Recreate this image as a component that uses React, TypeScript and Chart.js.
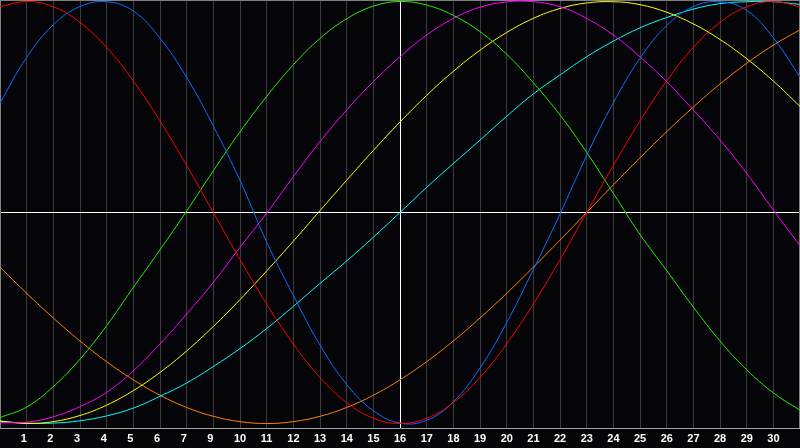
import React, { useEffect, useRef } from "react";
import { Chart, registerables } from "chart.js";

Chart.register(...registerables);

// Tick labels (positions 0..30; note "8" is absent in the original)
const xLabels = [
  "", "1", "2", "3", "4", "5", "6", "7", "9", "10", "11", "12", "13", "14", "15", "16",
  "17", "18", "19", "20", "21", "22", "23", "24", "25", "26", "27", "28", "29", "30", "",
];

const redValues = [0.975, 1, 0.975, 0.901, 0.782, 0.623, 0.434, 0.223, 0, -0.223, -0.434, -0.623, -0.782, -0.901, -0.975, -1, -0.975, -0.901, -0.782, -0.623, -0.434, -0.223, 0, 0.223, 0.434, 0.623, 0.782, 0.901, 0.975, 1, 0.975];
const blueValues = [0.52, 0.735, 0.89, 0.976, 0.999, 0.955, 0.826, 0.64, 0.41, 0.152, -0.14, -0.393, -0.628, -0.815, -0.939, -0.998, -0.985, -0.897, -0.737, -0.522, -0.27, -0.007, 0.27, 0.52, 0.731, 0.886, 0.976, 0.999, 0.958, 0.828, 0.642];
const greenValues = [-0.972, -0.922, -0.825, -0.695, -0.536, -0.355, -0.177, 0.007, 0.198, 0.382, 0.55, 0.7, 0.825, 0.918, 0.978, 1.0, 0.983, 0.934, 0.857, 0.75, 0.615, 0.462, 0.285, 0.091, -0.104, -0.275, -0.448, -0.609, -0.745, -0.855, -0.937];
const magentaValues = [-0.995, -0.994, -0.968, -0.92, -0.852, -0.75, -0.623, -0.481, -0.331, -0.165, -0.003, 0.17, 0.336, 0.486, 0.62, 0.738, 0.841, 0.92, 0.973, 0.998, 0.999, 0.975, 0.92, 0.841, 0.738, 0.62, 0.486, 0.344, 0.186, 0.012, -0.157];
const yellowValues = [-0.988, -1.0, -0.991, -0.962, -0.913, -0.844, -0.758, -0.656, -0.54, -0.413, -0.277, -0.136, 0.009, 0.153, 0.294, 0.429, 0.555, 0.669, 0.769, 0.853, 0.92, 0.967, 0.993, 0.999, 0.985, 0.949, 0.894, 0.82, 0.729, 0.623, 0.503];
const cyanValues = [-0.99, -0.998, -0.998, -0.987, -0.964, -0.927, -0.871, -0.808, -0.73, -0.645, -0.55, -0.445, -0.336, -0.23, -0.117, 0, 0.119, 0.232, 0.343, 0.456, 0.562, 0.652, 0.738, 0.812, 0.875, 0.924, 0.964, 0.99, 0.999, 0.999, 0.986];
const orangeValues = [-0.259, -0.383, -0.5, -0.609, -0.707, -0.793, -0.866, -0.924, -0.966, -0.991, -1, -0.991, -0.966, -0.924, -0.866, -0.793, -0.707, -0.609, -0.5, -0.383, -0.259, -0.131, 0, 0.131, 0.259, 0.383, 0.5, 0.609, 0.707, 0.793, 0.866];

const seriesNames = ["Red", "Blue", "Green", "Magenta", "Yellow", "Cyan", "Orange"];
const seriesColors = ["#ff0000", "#0a6cff", "#22ee00", "#ff00ff", "#ffff00", "#00ffff", "#ff8000"];
const seriesValues = [redValues, blueValues, greenValues, magentaValues, yellowValues, cyanValues, orangeValues];

const BG = "#050509";

const framePlugin = {
  id: "frame",
  beforeDraw(chart: any) {
    const { ctx, width, height } = chart;
    ctx.save();
    ctx.fillStyle = BG;
    ctx.fillRect(0, 0, width, height);
    ctx.restore();
  },
  beforeDatasetsDraw(chart: any) {
    const { ctx, chartArea } = chart;
    ctx.save();
    ctx.strokeStyle = "#808080";
    ctx.lineWidth = 1;
    ctx.beginPath();
    ctx.moveTo(chartArea.left, chartArea.top + 0.5);
    ctx.lineTo(chartArea.right, chartArea.top + 0.5);
    ctx.moveTo(chartArea.right - 0.5, chartArea.top);
    ctx.lineTo(chartArea.right - 0.5, chartArea.bottom);
    ctx.stroke();
    ctx.restore();
  },
};

export default function App() {
  const ref = useRef<HTMLCanvasElement | null>(null);
  useEffect(() => {
    if (!ref.current) return;
    const chart = new Chart(ref.current, {
      type: "line",
      data: {
        labels: xLabels,
        datasets: seriesValues.map((vals, i) => ({
          label: seriesNames[i],
          data: vals,
          borderColor: seriesColors[i],
          borderWidth: 1,
          pointRadius: 0,
          tension: 0.4,
          fill: false,
        })),
      },
      options: {
        animation: false,
        responsive: false,
        devicePixelRatio: 1,
        layout: { padding: 0 },
        plugins: { legend: { display: false }, tooltip: { enabled: false } },
        scales: {
          x: {
            type: "category",
            offset: false,
            grid: {
              color: (c: any) => (c.index === 15 ? "#ffffff" : "#3c3c3c"),
              drawTicks: false,
              lineWidth: 1,
            },
            border: { display: true, color: "#a0a0a0" },
            ticks: {
              autoSkip: false,
              maxRotation: 0,
              minRotation: 0,
              align: "start",
              labelOffset: -6,
              padding: 0,
              color: "#ffffff",
              font: { family: "'Liberation Sans', Arial, sans-serif", size: 11, weight: "bold", lineHeight: 2 },
            },
            afterFit: (s: any) => {
              s.height = 20;
            },
          },
          y: {
            min: -1.0213,
            max: 1.0071,
            afterBuildTicks: (s: any) => {
              s.ticks = [{ value: 0 }];
            },
            grid: { color: "#ffffff", drawTicks: false, lineWidth: 1 },
            border: { display: true, color: "#808080" },
            ticks: { display: false, padding: 0 },
          },
        },
      },
      plugins: [framePlugin],
    });
    return () => chart.destroy();
  }, []);
  return (
    <div style={{ position: "absolute", left: 0, top: 0, width: 800, height: 448 }}>
      <canvas ref={ref} width={800} height={448} style={{ display: "block" }} />
    </div>
  );
}
